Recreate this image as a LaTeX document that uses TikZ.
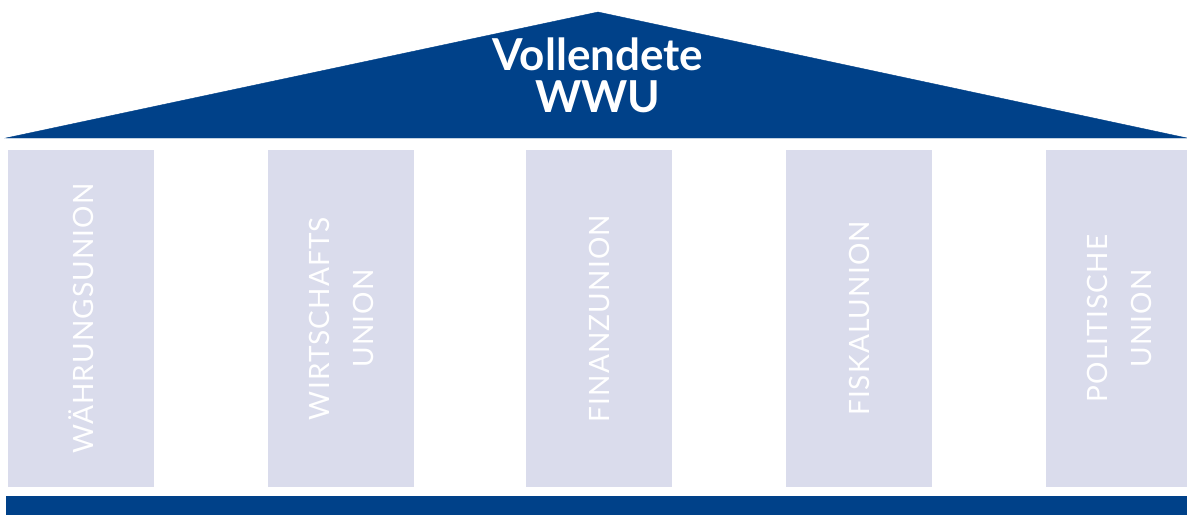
\documentclass[tikz,border=0pt]{standalone}
\usepackage{fontspec}
\setmainfont{Lato}
\newfontfamily\pillarfont[LetterSpace=4]{Lato}
\definecolor{wwublue}{RGB}{0,65,137}
\definecolor{pillarfill}{RGB}{218,220,236}

\begin{document}
\begin{tikzpicture}[x=1pt,y=-1pt,
  pillar/.style={fill=pillarfill},
  pillarlabel/.style={text=white,rotate=90,align=center,
    font=\pillarfont\fontsize{28}{44}\selectfont}]
\useasboundingbox (0,0) rectangle (1187,515);
% roof
\filldraw[wwublue](6,138)--(598,12)--(1187,138)--cycle;
\node[text=white,align=center,font=\bfseries\fontsize{44}{42}\selectfont] (roof) at (598,75) {Vollendete\\WWU};
% pillars
\foreach \x/\txt [count=\i] in {8/{WÄHRUNGSUNION},268/{WIRTSCHAFTS\\UNION},526/{FINANZUNION},786/{FISKALUNION},1046/{POLITISCHE\\UNION}}{
  \fill[pillar](\x,150) rectangle ++(146,337);
  \node[pillarlabel] (p\i) at (\x+73,318.5) {\txt};
}
% base
\fill[wwublue](6,496) rectangle (1187,515);
\end{tikzpicture}
\end{document}
